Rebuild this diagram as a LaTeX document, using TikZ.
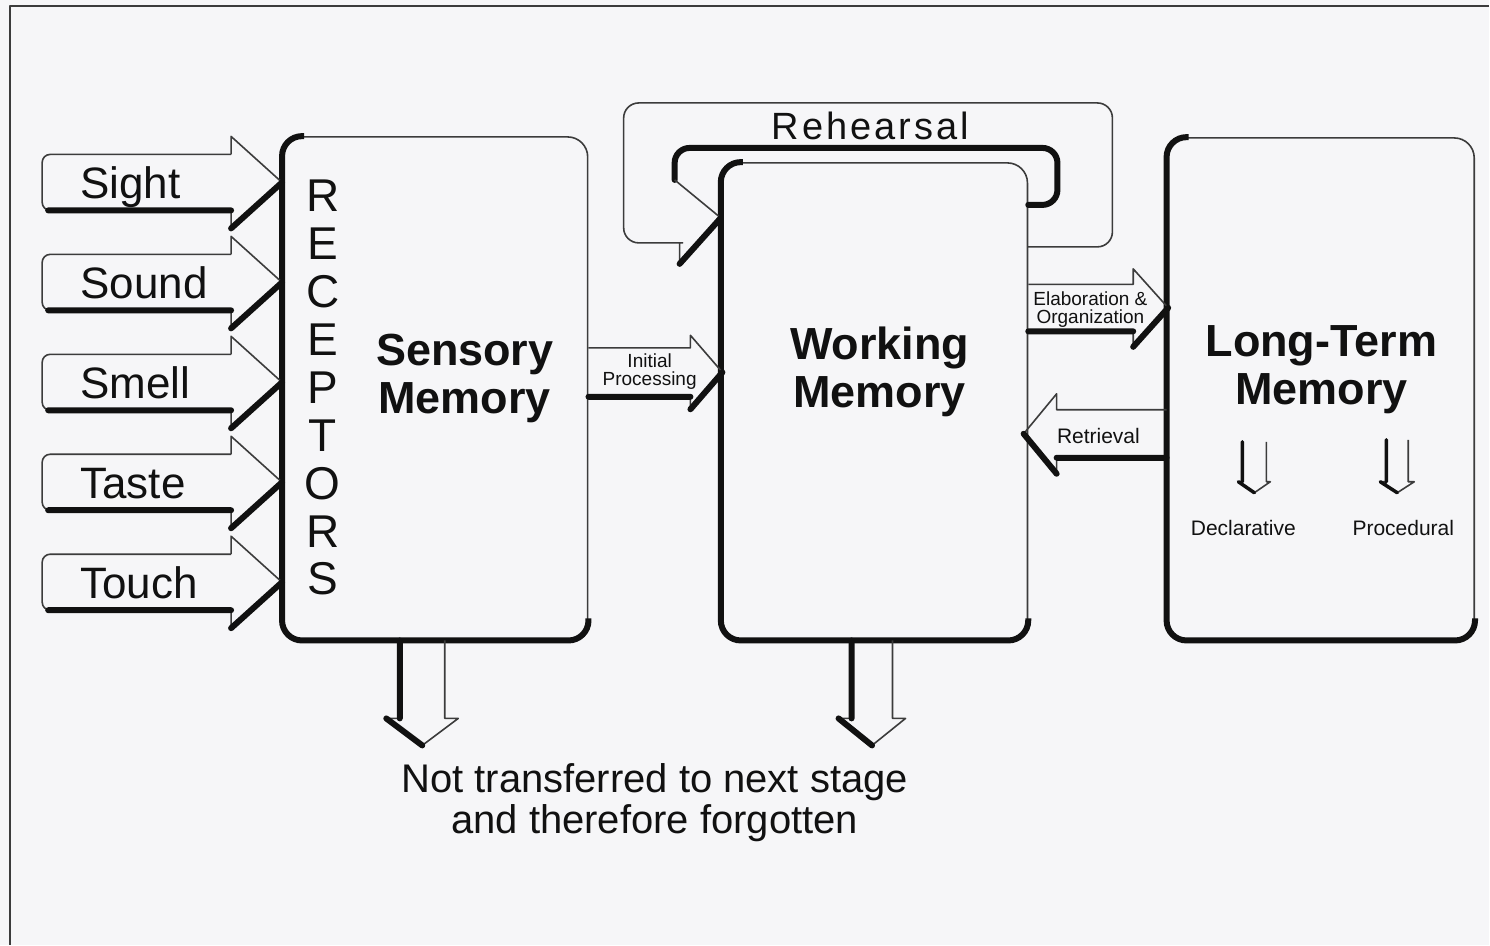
\documentclass[tikz,border=0pt]{standalone}
\usepackage{fontspec}
\setmainfont{Liberation Sans}
\usetikzlibrary{positioning,calc}
\definecolor{PaperGray}{HTML}{F6F6F8}
\definecolor{InkBlack}{HTML}{111111}
\definecolor{RuleGray}{HTML}{3C3C3C}

\newcommand\blockarrow[6][]{%
  \begin{scope}[shift={#2},#1]
    \draw[thinedge] (0,-#5) -- (#4,-#5) -- (#4,-#6) -- (#3,0) -- (#4,#6) -- (#4,#5) -- (0,#5);
    \draw[thickedge] (0,#5) -- (#4,#5) (#4,#6) -- (#3,0);
  \end{scope}}

\begin{document}
\begin{tikzpicture}[x=1pt,y=-1pt,
  every node/.style={inner sep=0pt,align=center,text=InkBlack},
  membox/.style={draw=RuleGray,line width=1.6pt,rounded corners=20pt,fill=PaperGray},
  shadeline/.style={draw=InkBlack,line width=6pt,rounded corners=20pt},
  thinedge/.style={draw=RuleGray,line width=1.6pt,line join=round},
  thickedge/.style={draw=InkBlack,line width=6pt,line cap=round},
  inlabel/.style={font=\fontsize{44}{48}\selectfont,anchor=base west},
  memlabel/.style={font=\bfseries\fontsize{45}{48}\selectfont},
  smalllabel/.style={font=\fontsize{19}{18}\selectfont},
  sidelabel/.style={font=\fontsize{21}{24}\selectfont}
]
  \fill[PaperGray] (0,0) rectangle (1490,945);
  \draw[thinedge] (1490,6) -- (10,6) -- (10,945);

  \draw[thinedge,rounded corners=15pt] (1028,247) -- (1113,247) -- (1113,103) -- (624,103) -- (624,243) -- (668,243) [sharp corners] -- (680,243) -- (680,262);
  \node[font=\fontsize{38}{40}\selectfont\addfontfeature{LetterSpace=8}] (rehearsal) at (871,126) {Rehearsal};

  \node[membox,minimum width=305pt,minimum height=503pt] (sensory) at (435.5,388.5) {};
  \node[membox,minimum width=306pt,minimum height=477pt] (working) at (875,401.5) {};
  \node[membox,minimum width=307pt,minimum height=502pt] (ltm) at (1321.5,389) {};
  \foreach \b in {sensory,working,ltm}
    \draw[shadeline] ([xshift=22pt]\b.north west) -- (\b.north west) -- (\b.south west) -- (\b.south east) -- ([yshift=22pt]\b.south east);

  \node[font=\fontsize{46}{47.9}\selectfont] (receptors) at (323,388) {R\\E\\C\\E\\P\\T\\O\\R\\S};
  \node[memlabel] (senslabel) at (465,379) {Sensory\\Memory};
  \node[memlabel] (worklabel) at (880,372) {Working\\Memory};
  \node[memlabel] (ltmlabel) at (1322,370) {Long-Term\\Memory};

  \foreach \lbl [count=\i from 0] in {Sight,Sound,Smell,Taste,Touch} {
    \begin{scope}[shift={(sensory.west |- 0,{182.5+100*\i})}]
      \draw[thinedge] (-51,-28) [rounded corners=8pt] -- (-240,-28) -- (-240,28) [sharp corners] -- (-51,28);
      \draw[thinedge] (-51,-28) -- (-51,-46) -- (0,0) (-51,28) -- (-51,46);
      \draw[thickedge] (-234,28) -- (-51,28) (-51,46) -- (0,0);
      \node[inlabel] (in\i) at (-202,16) {\lbl};
    \end{scope}
  }

  \coordinate (rehtip) at (working.west |- 0,218);
  \draw[thickedge,rounded corners=15pt] (working.east |- 0,205) -- (1058,205) -- (1058,148) -- (675,148) -- (675,180);
  \draw[thinedge] (675,180) -- (rehtip);
  \draw[thickedge] (680,264) -- (rehtip);

  \blockarrow{(sensory.east |- 0,372.5)}{134}{102}{24.5}{37}
  \node[smalllabel] (initproc) at (650,372) {Initial\\Processing};

  \blockarrow{(working.east |- 0,308)}{140}{105}{23.5}{39}
  \node[smalllabel] (elabor) at (1091,310) {Elaboration \&\\Organization};

  \blockarrow[xscale=-1]{(ltm.west |- 0,434)}{143}{110}{24}{40}
  \node[sidelabel] (retrieval) at (1099,436) {Retrieval};

  \blockarrow[rotate=-90]{(sensory.south -| 422.5,0)}{105}{78}{22.5}{36}
  \blockarrow[rotate=-90]{(working.south -| 872.5,0)}{105}{78}{20.5}{33.5}
  \node[font=\fontsize{40}{41}\selectfont] (forget) at (655,803) {Not transferred to next stage\\and therefore forgotten};

  \blockarrow[rotate=-90,thickedge/.append style={line width=3.5pt}]{(1255,442)}{51}{40}{12}{16}
  \blockarrow[rotate=-90,thickedge/.append style={line width=3.5pt}]{(1398,440)}{53}{42}{11}{17}
  \node[sidelabel] (declar) at (1244,528) {Declarative};
  \node[sidelabel] (proced) at (1404,528) {Procedural};
\end{tikzpicture}
\end{document}
